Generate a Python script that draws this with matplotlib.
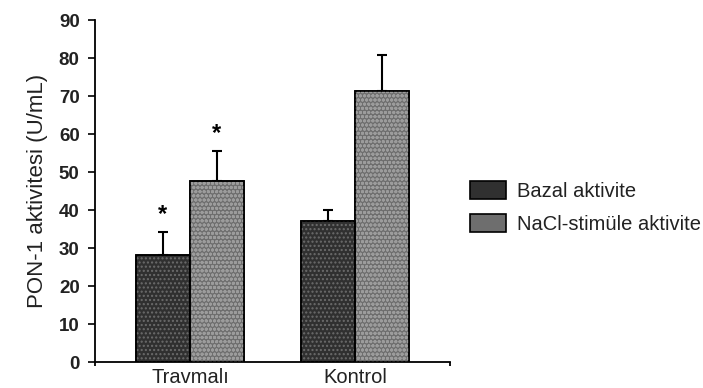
import numpy as np
import matplotlib.pyplot as plt

plt.rcParams['font.family'] = ['Liberation Sans', 'DejaVu Sans']

groups = ["Travmalı", "Kontrol"]
series = ["Bazal aktivite", "NaCl-stimüle aktivite"]
bazal = [28.3, 37.1]
bazal_err = [6.0, 3.0]
nacl = [47.6, 71.3]
nacl_err = [8.0, 9.5]
stars_bazal = [True, False]
stars_nacl = [True, False]

face_colors = ["#303030", "#6e6e6e"]
hatch_colors = ["#6c6c6c", "#9c9c9c"]
hatches = ["....", "oooo"]

fig = plt.figure(figsize=(7.03, 3.88), dpi=100)
ax = fig.add_axes([0.135, 0.067, 0.505, 0.881])

x = np.arange(len(groups))
w = 0.327
values = [bazal, nacl]
errs = [bazal_err, nacl_err]
stars = [stars_bazal, stars_nacl]
offsets = [-w / 2, w / 2]

handles = []
for i in range(2):
    xs = x + offsets[i]
    b = ax.bar(xs, values[i], w, color=face_colors[i], edgecolor="black",
               linewidth=1.2, zorder=2)
    ax.bar(xs, values[i], w, color="none", edgecolor=hatch_colors[i],
           hatch=hatches[i], linewidth=0, zorder=3)
    ax.bar(xs, values[i], w, color="none", edgecolor="black",
           linewidth=1.2, zorder=4)
    ax.errorbar(xs, values[i], yerr=[np.zeros(2), errs[i]], fmt="none",
                ecolor="black", elinewidth=1.5, capsize=3.5, capthick=1.5,
                zorder=1)
    for j in range(2):
        if stars[i][j]:
            ax.text(xs[j], values[i][j] + errs[i][j] + 4.6, "*",
                    ha="center", va="center", fontsize=17, fontweight="bold")
    handles.append(b)

xmin, xmax = -0.576, 1.576
ax.set_xlim(xmin, xmax)
ax.set_ylim(0, 90)
ax.set_yticks(np.arange(0, 91, 10))
ax.set_xticks(x)
ax.set_xticks([xmin, xmax], minor=True)
ax.set_xticklabels(groups, fontsize=14.5, color="#222222")
ax.tick_params(axis="x", which="major", length=0, pad=4)
ax.tick_params(axis="x", which="minor", direction="out", length=3, width=1.3)
ax.tick_params(axis="y", direction="out", length=5, width=1.2, labelsize=13.5,
               pad=6)
for lab in ax.get_yticklabels():
    lab.set_fontweight("bold")
    lab.set_color("#222222")
ax.spines["top"].set_visible(False)
ax.spines["right"].set_visible(False)
ax.spines["left"].set_linewidth(1.3)
ax.spines["bottom"].set_linewidth(1.3)
ax.set_ylabel("PON-1 aktivitesi (U/mL)", fontsize=16, labelpad=8,
              color="#222222")

leg = fig.legend(handles, series, loc="upper left",
                 bbox_to_anchor=(0.668, 0.533), frameon=False, fontsize=14.5,
                 handlelength=1.8, handleheight=1.0, handletextpad=0.55,
                 labelspacing=0.66, borderpad=0, borderaxespad=0)
for t in leg.get_texts():
    t.set_color("#222222")

fig.savefig("out.png", dpi=100)
